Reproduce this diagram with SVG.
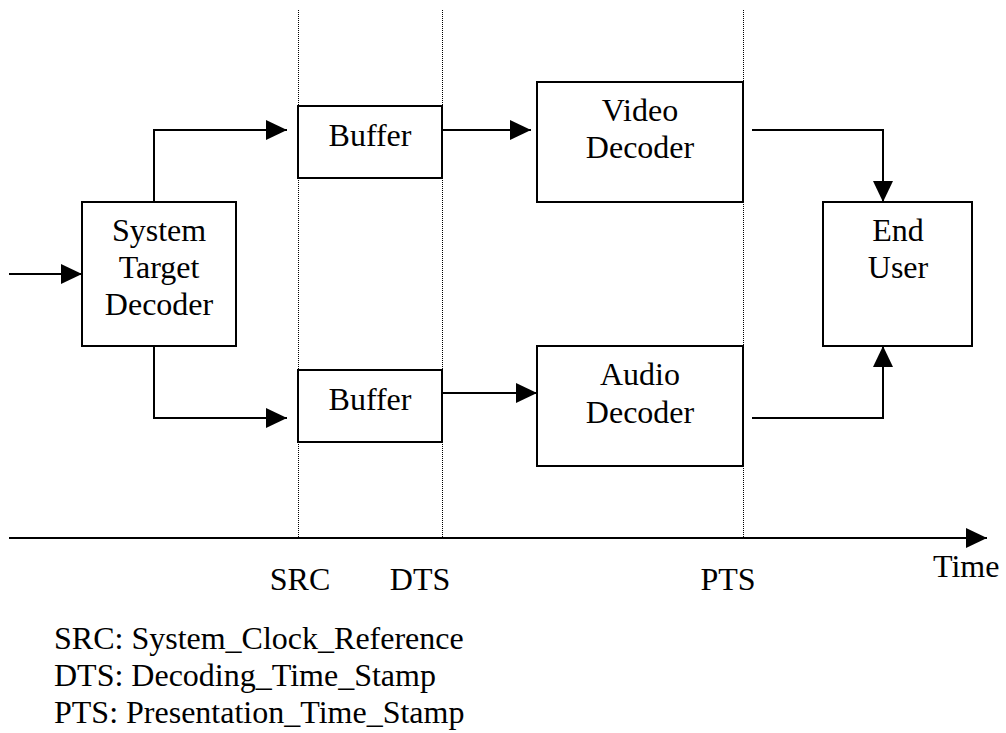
<svg xmlns="http://www.w3.org/2000/svg" width="1006" height="733" viewBox="0 0 1006 733">
  <style>
    .box { fill: #fff; stroke: #000; stroke-width: 2; }
    .wire { fill: none; stroke: #000; stroke-width: 2; }
    .guide { stroke: #000; stroke-width: 1; stroke-dasharray: 1 1; }
    text { font-family: "Liberation Serif", "Times New Roman", serif; font-size: 32px; fill: #000; }
    .c { text-anchor: middle; }
  </style>
  <defs>
    <marker id="arrow" markerUnits="userSpaceOnUse" markerWidth="21" markerHeight="20" refX="21" refY="10" orient="auto">
      <path d="M0,0 L21,10 L0,20 z" fill="#000"/>
    </marker>
  </defs>

  <!-- timing guides -->
  <g id="guides">
    <line class="guide" x1="298.5" y1="10" x2="298.5" y2="538"/>
    <line class="guide" x1="442.5" y1="10" x2="442.5" y2="538"/>
    <line class="guide" x1="743.5" y1="10" x2="743.5" y2="538"/>
  </g>

  <!-- connectors -->
  <g id="connectors">
    <line class="wire" x1="9" y1="274" x2="82" y2="274" marker-end="url(#arrow)"/>
    <polyline class="wire" points="154,202 154,130 287,130" marker-end="url(#arrow)"/>
    <polyline class="wire" points="154,346 154,418 287,418" marker-end="url(#arrow)"/>
    <line class="wire" x1="442" y1="130" x2="531" y2="130" marker-end="url(#arrow)"/>
    <line class="wire" x1="442" y1="393" x2="537" y2="393" marker-end="url(#arrow)"/>
    <polyline class="wire" points="752,130 883,130 883,202" marker-end="url(#arrow)"/>
    <polyline class="wire" points="752,418 883,418 883,346" marker-end="url(#arrow)"/>
    <line class="wire" x1="9" y1="538" x2="987" y2="538" marker-end="url(#arrow)"/>
  </g>

  <g id="std">
    <rect class="box" x="82" y="202" width="154" height="144"/>
    <text class="c" x="159" y="241">System</text>
    <text class="c" x="159" y="278">Target</text>
    <text class="c" x="159" y="315">Decoder</text>
  </g>

  <g id="buffer-video">
    <rect class="box" x="298" y="106" width="144" height="72"/>
    <text class="c" x="370" y="146">Buffer</text>
  </g>

  <g id="buffer-audio">
    <rect class="box" x="298" y="370" width="144" height="72"/>
    <text class="c" x="370" y="410">Buffer</text>
  </g>

  <g id="video-decoder">
    <rect class="box" x="537" y="82" width="206" height="120"/>
    <text class="c" x="640" y="121">Video</text>
    <text class="c" x="640" y="158">Decoder</text>
  </g>

  <g id="audio-decoder">
    <rect class="box" x="537" y="346" width="206" height="120"/>
    <text class="c" x="640" y="385">Audio</text>
    <text class="c" x="640" y="423">Decoder</text>
  </g>

  <g id="end-user">
    <rect class="box" x="823" y="202" width="149" height="144"/>
    <text class="c" x="898" y="241">End</text>
    <text class="c" x="898" y="278">User</text>
  </g>

  <!-- time axis labels -->
  <g id="axis-labels">
    <text class="c" x="300" y="590">SRC</text>
    <text class="c" x="420" y="590">DTS</text>
    <text class="c" x="728" y="590">PTS</text>
    <text x="933" y="577">Time</text>
  </g>

  <g id="legend">
    <text x="54" y="649">SRC: System_Clock_Reference</text>
    <text x="54" y="686">DTS: Decoding_Time_Stamp</text>
    <text x="54" y="723">PTS: Presentation_Time_Stamp</text>
  </g>
</svg>
